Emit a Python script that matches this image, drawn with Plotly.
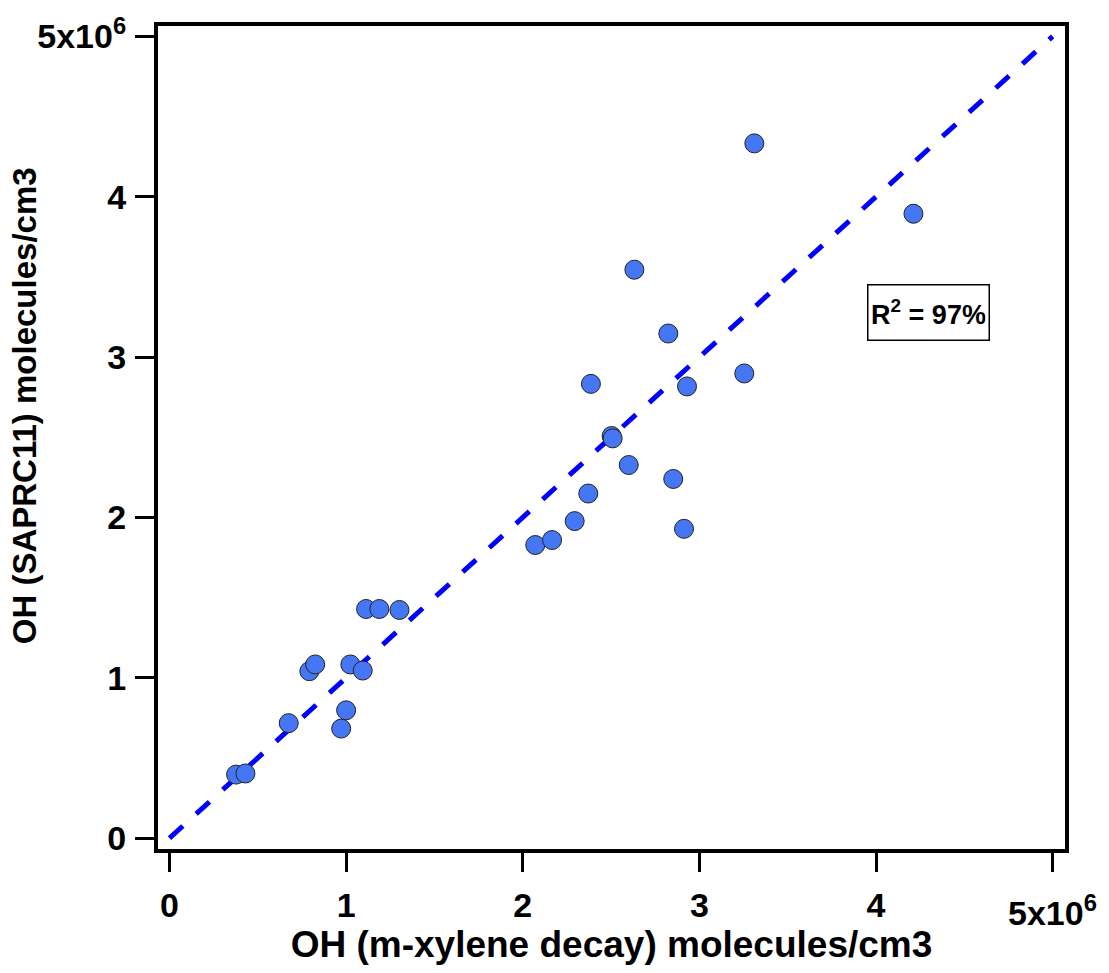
import plotly.graph_objects as go

# OH from m-xylene decay (x) vs OH from SAPRC11 (y), molecules/cm3
oh_xylene = [0.377e6, 0.430e6, 0.675e6, 0.792e6, 0.825e6, 0.972e6, 1.000e6, 1.024e6,
             1.094e6, 1.113e6, 1.188e6, 1.302e6, 2.071e6, 2.166e6, 2.294e6, 2.371e6,
             2.386e6, 2.503e6, 2.509e6, 2.600e6, 2.632e6, 2.824e6, 2.852e6, 2.913e6,
             2.930e6, 3.254e6, 3.311e6, 4.212e6]
oh_saprc = [0.396e6, 0.403e6, 0.717e6, 1.041e6, 1.083e6, 0.683e6, 0.797e6, 1.083e6,
            1.045e6, 1.429e6, 1.429e6, 1.423e6, 1.828e6, 1.859e6, 1.977e6, 2.149e6,
            2.833e6, 2.508e6, 2.493e6, 2.327e6, 3.545e6, 3.147e6, 2.240e6, 1.929e6,
            2.817e6, 2.898e6, 4.333e6, 3.894e6]

one_to_one = [0, 5e6]
tick_vals = [0, 1e6, 2e6, 3e6, 4e6, 5e6]
y_tick_text = ["0", "1", "2", "3", "4", "5x10<sup>6</sup>"]
x_tick_text = ["0", "1", "2", "3", "4", ""]
x_exp_label = "5x10<sup>6</sup>"
x_title = "OH (m-xylene decay) molecules/cm3"
y_title = "OH (SAPRC11) molecules/cm3"
r2_text = "R<sup>2</sup> = 97%"

FONT = "Arial, Liberation Sans, sans-serif"
TICKFONT = dict(family=FONT, size=34, color="black", weight="bold")

fig = go.Figure()
fig.add_trace(go.Scatter(
    x=one_to_one, y=one_to_one, mode="lines",
    line=dict(color="#0000FF", width=5, dash="18px,18px"),
    showlegend=False, hoverinfo="skip"))
fig.add_trace(go.Scatter(
    x=oh_xylene, y=oh_saprc, mode="markers",
    marker=dict(size=19, color="#4577F4", line=dict(color="#222222", width=1)),
    showlegend=False))

# R^2 box
fig.add_annotation(
    x=4.30e6, y=3.279e6, xref="x", yref="y", text=r2_text, showarrow=False,
    font=dict(family=FONT, size=27, color="black", weight="bold"),
    width=114, height=48, borderpad=3,
    bordercolor="black", borderwidth=1.5, bgcolor="white")

# x-axis exponent tick label (drawn lower, like the original)
fig.add_annotation(
    x=tick_vals[-1], xref="x", y=0, yref="paper", yanchor="top", yshift=-38,
    text=x_exp_label, showarrow=False, font=TICKFONT)

# y-axis title
fig.add_annotation(
    x=0, xref="paper", xanchor="center", xshift=-134,
    y=0.538, yref="paper", yanchor="middle",
    text=y_title, textangle=-90, showarrow=False,
    font=dict(family=FONT, size=33, color="black", weight="bold"))

axis_common = dict(
    showline=True, linewidth=4, linecolor="black", mirror=True,
    ticks="outside", ticklen=19, tickwidth=3, tickcolor="black",
    showgrid=False, zeroline=False,
    tickvals=tick_vals, tickfont=TICKFONT,
)

fig.update_layout(
    width=1109, height=973,
    margin=dict(l=158, r=44, t=24, b=124),
    plot_bgcolor="white", paper_bgcolor="white",
    font=dict(family=FONT, color="black"),
    xaxis=dict(range=[-0.065e6, 5.07e6], ticktext=x_tick_text,
               ticklabelstandoff=4,
               title=dict(text=x_title,
                          font=dict(family=FONT, size=37, weight="bold"), standoff=8),
               **axis_common),
    yaxis=dict(range=[-0.068e6, 5.065e6], ticktext=y_tick_text,
               ticklabelstandoff=2,
               **axis_common),
)

fig.write_html("out.html")
